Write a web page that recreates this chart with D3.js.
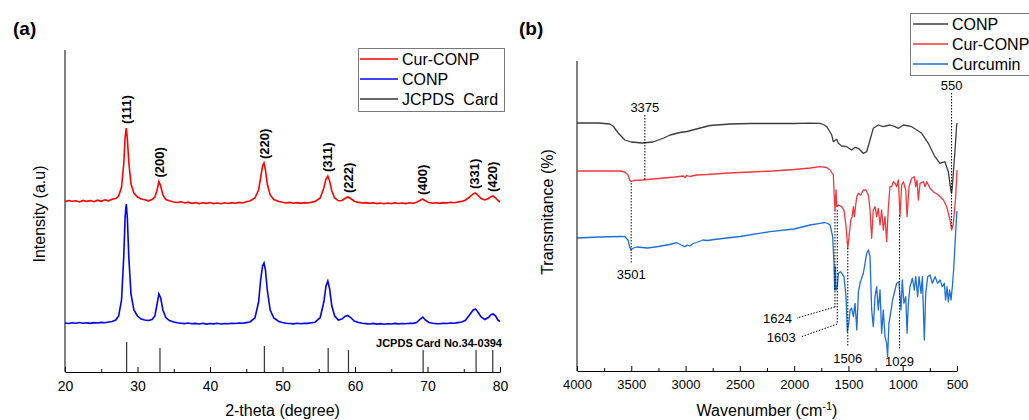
<!DOCTYPE html>
<html>
<head>
<meta charset="utf-8">
<script src="https://cdn.jsdelivr.net/npm/d3@7"></script>
<style>
  body { margin: 0; background: #fff; }
  text { font-family: "Liberation Sans", Arial, sans-serif; }
</style>
</head>
<body>
<script>
// ---------- (a) XRD data ----------
var xrdTheta = [20,20.5,21,21.5,22,22.5,23,23.5,24,24.5,25,25.5,26,26.5,27,27.4,27.8,28.1,28.3,28.45,28.6,28.8,29.1,29.5,30,30.5,31,31.5,32,32.4,32.7,32.95,33.2,33.5,33.9,34.4,35,35.5,36,36.5,37,37.5,38,38.5,39,39.5,40,40.5,41,41.5,42,42.5,43,43.5,44,44.5,45,45.5,46.2,46.7,47.0,47.25,47.45,47.65,47.9,48.3,48.8,49.5,50,50.5,51,51.5,52,52.5,53,53.5,54,54.5,55.2,55.7,56.0,56.25,56.5,56.8,57.2,57.7,58.2,58.6,59.0,59.4,59.9,60.5,61,61.5,62,62.5,63,63.5,64,64.5,65,65.5,66,66.5,67,67.5,68,68.5,69.0,69.35,69.7,70.2,70.7,71.2,71.7,72.2,72.7,73.2,73.7,74.2,74.7,75.2,75.8,76.3,76.6,76.9,77.4,77.9,78.4,78.8,79.05,79.4,79.7,80];
var xrdCurConp = [1705,1715,1708,1712,1700,1716,1706,1714,1703,1718,1707,1722,1712,1728,1735,1760,1850,2080,2350,2440,2330,2100,1880,1790,1750,1730,1722,1712,1725,1750,1820,1905,1860,1770,1725,1712,1700,1695,1702,1690,1698,1686,1694,1684,1692,1686,1695,1684,1690,1682,1692,1685,1694,1688,1696,1690,1702,1710,1740,1820,1950,2060,2090,2020,1880,1770,1725,1705,1698,1690,1696,1688,1694,1686,1694,1690,1698,1706,1740,1840,1930,1960,1910,1810,1740,1712,1715,1735,1750,1735,1708,1696,1690,1694,1686,1692,1684,1690,1682,1690,1684,1692,1685,1690,1684,1692,1688,1698,1718,1730,1712,1694,1688,1692,1686,1694,1690,1697,1692,1700,1706,1718,1750,1780,1790,1772,1735,1720,1735,1755,1760,1740,1715,1700];
var xrdConp = [490,485,492,488,495,487,493,486,494,490,496,492,500,505,520,560,720,1150,1560,1680,1540,1150,780,620,560,530,520,515,525,560,680,780,740,620,545,515,500,492,488,484,490,482,486,480,487,479,485,481,487,480,484,482,488,485,490,487,494,500,540,700,930,1060,1090,1020,820,620,540,505,495,488,485,481,487,483,488,486,492,498,545,700,860,910,830,660,560,520,530,555,565,545,510,495,488,484,480,486,479,484,478,483,480,486,481,485,482,488,486,495,530,550,520,495,487,484,482,487,485,490,488,494,500,515,570,620,630,605,550,525,545,575,580,560,520,505];

var jcpdsTheta = [28.5, 33.1, 47.5, 56.3, 59.1, 69.4, 76.7, 79.0];
var jcpdsHeight = [300, 240, 260, 240, 220, 220, 220, 220];

var hklNames = ["(111)","(200)","(220)","(311)","(222)","(400)","(331)","(420)"];
var hklTheta = [28.45, 33.0, 47.45, 56.25, 59.1, 69.35, 76.5, 78.9];

var xrdLegend = ["Cur-CONP", "CONP", "JCPDS  Card"];
var xrdColors = ["#ff0000", "#0000ff", "#333333"];

// ---------- (b) FTIR data ----------
var wnConp = [4000,3900,3800,3700,3668,3620,3560,3500,3400,3300,3200,3143,3050,2987,2900,2775,2650,2591,2400,2200,2000,1850,1762,1730,1700,1675,1654,1639,1608,1593,1562,1516,1470,1439,1409,1363,1332,1301,1271,1225,1179,1117,1071,1040,994,917,825,764,703,657,611,580,555,550,543,518,503,500];
var ftirConp = [248,248,248,247,245,238,231,229,228,229,233,236,238.5,239.5,242,245.5,246.5,247,247.5,247.5,247.5,247.8,247.7,246.5,244.3,240,236,229.3,231.7,227.7,225,224.3,221,223.7,222.7,217.7,219.3,231,242.7,246,244.3,246,244.3,242.7,246,244.3,237.7,227.7,214.3,207.7,209.3,199.3,179.3,178,184.3,221,246,248];

var wnCurConp = [4000,3800,3604,3560,3530,3515,3501,3480,3400,3300,3200,3100,3020,3005,2990,2960,2900,2800,2600,2400,2200,2000,1850,1762,1700,1669,1639,1633,1624,1614,1608,1593,1562,1541,1522,1506,1491,1478,1466,1454,1445,1435,1423,1408,1386,1363,1338,1316,1301,1286,1271,1255,1240,1225,1209,1194,1179,1163,1148,1132,1117,1102,1086,1071,1056,1040,1025,1010,994,972,960,942,917,893,880,868,856,840,809,794,779,748,717,671,625,595,564,549,533,512,500];
var ftirCurConp = [200,200,200,199,196,191,189.5,190.5,191,192,193,194,195,193.5,195.5,194.5,196,196.5,198,199,200,201.5,203,204.3,203.5,201,196,181,161,181,164.3,166,164.3,161,144.3,122.7,137.7,151,154.3,164.3,154.3,164.3,174.3,177.7,176,181,181,176,161,132.7,161,164.3,154.3,162.7,146,161,141,154.3,129.3,164.3,184.3,184.3,189.3,187.7,184.3,191,154.3,186,189.3,181,154.3,184.3,192.7,194.3,184.3,191,171,187.7,189.3,184.3,189.3,182.7,179.3,176,171,164.3,151,141,147.7,174.3,201];

var wnCurcumin = [4000,3800,3600,3558,3530,3515,3501,3490,3450,3350,3250,3150,3080,3040,3005,2985,2960,2930,2900,2840,2800,2700,2500,2222,2000,1854,1762,1720,1690,1669,1645,1633,1627,1621,1614,1602,1593,1572,1541,1522,1510,1497,1485,1470,1454,1439,1423,1408,1393,1378,1363,1347,1332,1316,1301,1286,1271,1255,1240,1225,1209,1194,1179,1163,1148,1139,1127,1112,1093,1071,1056,1035,1016,1004,989,972,960,948,933,911,893,880,862,850,831,819,801,788,770,748,727,702,678,656,635,617,605,592,580,568,555,543,531,518,503,500];
var ftirCurcumin = [133,134,134.5,134.3,131,124,121,122.5,124,123,124.5,126.5,128.3,126,124.3,126,125,127.5,128.5,131,130.5,132,134.5,139.3,142,146,147.7,148.5,147.5,146,134.3,107.7,81,104.3,81,84.3,97.7,99.3,94.3,74.3,39.3,47.7,61,62.7,54.3,67.7,41,79.3,87.7,92.7,97.7,107.7,117.7,121,114.3,61,44.3,74.3,84.3,61,81,37.7,61,34.3,27.7,14.3,47.7,57.7,71,81,87.7,89.3,61,91,67.7,74.3,37.7,67.7,84.3,92.7,81,94.3,74.3,94.3,77.7,94.3,31,77.7,94.3,96,87.7,94.3,87.7,91,84.3,87.7,71,84.3,69.3,81,71,84.3,101,127.7,156,160];

var ftirLegend = ["CONP", "Cur-CONP", "Curcumin"];
var ftirColors = ["#3c3c3c", "#f5363c", "#1c6fd8"];

// marked bands: dotted line from top to bottom value
var markWn = [3375, 550, 3501, 1624, 1603, 1506, 1029];
var markTop = [256, 278, 188, 161, 161, 123, 156];
var markBottom = [191, 143, 108, 64, 47, 24, 21];
var markSide = ["above", "above", "below", "leader", "leader", "below", "below"];
var leaderWn = [null, null, null, 1974, 1940, null, null];
var leaderVal = [null, null, null, 53, 34, null, null];

var svg = d3.select("body").append("svg")
  .attr("width", 1029)
  .attr("height", 420);

// ======================= panel (a) =======================
var xA = d3.scaleLinear().domain([20, 80]).range([65, 500]);
var yA = d3.scaleLinear().domain([0, 3220]).range([372, 50]);

var gA = svg.append("g");

gA.append("g")
  .attr("transform", "translate(0," + yA(0) + ")")
  .call(d3.axisBottom(xA).tickValues(d3.range(20, 81, 10)).tickSizeInner(-5).tickSizeOuter(0).tickPadding(9))
  .call(g => g.selectAll("text").attr("font-size", 14).attr("fill", "#000"))
  .call(g => g.selectAll("line,path").attr("stroke", "#000"));

gA.append("g")
  .attr("transform", "translate(0," + yA(0) + ")")
  .call(d3.axisBottom(xA).tickValues(d3.range(25, 80, 10)).tickSizeInner(-3).tickSizeOuter(0).tickFormat(""))
  .call(g => g.select(".domain").remove())
  .call(g => g.selectAll("line").attr("stroke", "#000"));

gA.append("line")
  .attr("x1", xA(20)).attr("x2", xA(20))
  .attr("y1", yA(0)).attr("y2", yA(3220))
  .attr("stroke", "#000");

var lineA = d3.line().x(d => xA(d[0])).y(d => yA(d[1]));

gA.append("path")
  .datum(d3.zip(xrdTheta, xrdConp))
  .attr("d", lineA).attr("fill", "none")
  .attr("stroke", xrdColors[1]).attr("stroke-width", 1.6);

gA.append("path")
  .datum(d3.zip(xrdTheta, xrdCurConp))
  .attr("d", lineA).attr("fill", "none")
  .attr("stroke", xrdColors[0]).attr("stroke-width", 1.6);

// reference card sticks
gA.selectAll(".jcpds").data(d3.zip(jcpdsTheta, jcpdsHeight)).enter()
  .append("line")
  .attr("class", "jcpds")
  .attr("x1", d => xA(d[0])).attr("x2", d => xA(d[0]))
  .attr("y1", yA(0)).attr("y2", d => yA(d[1]))
  .attr("stroke", xrdColors[2]).attr("stroke-width", 1.2);

gA.append("text")
  .attr("x", 502).attr("y", 347)
  .attr("text-anchor", "end")
  .attr("font-size", 11).attr("font-weight", "bold")
  .text("JCPDS Card No.34-0394");

// hkl labels sit just above the Cur-CONP peaks
gA.selectAll(".hkl").data(d3.zip(hklTheta, hklNames)).enter()
  .append("text")
  .attr("class", "hkl")
  .attr("transform", d => {
    var peak = d3.max(xrdTheta.map((t, i) => Math.abs(t - d[0]) <= 0.45 ? xrdCurConp[i] : 0));
    return "translate(" + xA(d[0]) + "," + (yA(peak) - 4) + ") rotate(-90)";
  })
  .attr("dy", "0.35em")
  .attr("font-size", 13).attr("font-weight", "bold")
  .text(d => d[1]);

gA.append("text")
  .attr("x", xA(50)).attr("y", 416)
  .attr("text-anchor", "middle").attr("font-size", 16)
  .text("2-theta (degree)");

gA.append("text")
  .attr("transform", "translate(45,214) rotate(-90)")
  .attr("text-anchor", "middle").attr("font-size", 16)
  .text("Intensity (a.u)");

gA.append("text")
  .attr("x", 13).attr("y", 35)
  .attr("font-size", 19).attr("font-weight", "bold")
  .text("(a)");

// legend (a)
var legA = gA.append("g");
legA.append("rect")
  .attr("x", 358.5).attr("y", 48.5).attr("width", 146).attr("height", 63)
  .attr("fill", "#fff").attr("stroke", "#777");
xrdLegend.forEach((name, i) => {
  legA.append("line")
    .attr("x1", 360).attr("x2", 398)
    .attr("y1", 59 + i * 20).attr("y2", 59 + i * 20)
    .attr("stroke", xrdColors[i]).attr("stroke-width", 1.3);
  legA.append("text")
    .attr("x", 402).attr("y", 59 + i * 20 + 6)
    .attr("font-size", 16).style("white-space", "pre")
    .text(name);
});

// ======================= panel (b) =======================
var xB = d3.scaleLinear().domain([4000, 500]).range([577, 957]);
var yB = d3.scaleLinear().domain([0, 310]).range([371, 61]);

var gB = svg.append("g");

gB.append("g")
  .attr("transform", "translate(0," + yB(0) + ")")
  .call(d3.axisBottom(xB).tickValues(d3.range(4000, 499, -500)).tickFormat(d3.format("d"))
    .tickSizeInner(-5).tickSizeOuter(0).tickPadding(9))
  .call(g => g.selectAll("text").attr("font-size", 13).attr("fill", "#000"))
  .call(g => g.selectAll("line,path").attr("stroke", "#000"));

gB.append("g")
  .attr("transform", "translate(0," + yB(0) + ")")
  .call(d3.axisBottom(xB).tickValues(d3.range(3750, 500, -500)).tickSizeInner(-3).tickSizeOuter(0).tickFormat(""))
  .call(g => g.select(".domain").remove())
  .call(g => g.selectAll("line").attr("stroke", "#000"));

gB.append("line")
  .attr("x1", xB(4000)).attr("x2", xB(4000))
  .attr("y1", yB(0)).attr("y2", yB(310))
  .attr("stroke", "#000");

var lineB = d3.line().x(d => xB(d[0])).y(d => yB(d[1]));

[[wnConp, ftirConp], [wnCurConp, ftirCurConp], [wnCurcumin, ftirCurcumin]].forEach((s, i) => {
  gB.append("path")
    .datum(d3.zip(s[0], s[1]))
    .attr("d", lineB).attr("fill", "none")
    .attr("stroke", ftirColors[i]).attr("stroke-width", 1.3)
    .attr("stroke-linejoin", "round");
});

// dotted band markers
markWn.forEach((wn, i) => {
  gB.append("line")
    .attr("x1", xB(wn)).attr("x2", xB(wn))
    .attr("y1", yB(markTop[i])).attr("y2", yB(markBottom[i]))
    .attr("stroke", "#000").attr("stroke-width", 1)
    .attr("stroke-dasharray", "1.5,1.5");
  var lab = gB.append("text").attr("font-size", 13).text(wn);
  if (markSide[i] === "above") {
    lab.attr("x", xB(wn)).attr("y", yB(markTop[i]) - 3).attr("text-anchor", "middle");
  } else if (markSide[i] === "below") {
    lab.attr("x", xB(wn)).attr("y", yB(markBottom[i]) + 16).attr("text-anchor", "middle");
  } else {
    gB.append("line")
      .attr("x1", xB(wn)).attr("x2", xB(leaderWn[i]))
      .attr("y1", yB(markBottom[i])).attr("y2", yB(leaderVal[i]))
      .attr("stroke", "#000").attr("stroke-width", 1)
      .attr("stroke-dasharray", "1.5,1.5");
    lab.attr("x", xB(leaderWn[i]) - 5).attr("y", yB(leaderVal[i]) + 5).attr("text-anchor", "end");
  }
});

var xt = gB.append("text")
  .attr("x", 767).attr("y", 416)
  .attr("text-anchor", "middle").attr("font-size", 16);
xt.append("tspan").text("Wavenumber (cm");
xt.append("tspan").attr("dy", -6).attr("font-size", 11).text("-1");
xt.append("tspan").attr("dy", 6).text(")");

gB.append("text")
  .attr("transform", "translate(553,212) rotate(-90)")
  .attr("text-anchor", "middle").attr("font-size", 16)
  .text("Transmitance (%)");

gB.append("text")
  .attr("x", 519).attr("y", 35)
  .attr("font-size", 19).attr("font-weight", "bold")
  .text("(b)");

// legend (b)
var legB = gB.append("g");
legB.append("rect")
  .attr("x", 910.5).attr("y", 13.5).attr("width", 125).attr("height", 62)
  .attr("fill", "#fff").attr("stroke", "#777");
ftirLegend.forEach((name, i) => {
  legB.append("line")
    .attr("x1", 913).attr("x2", 948)
    .attr("y1", 24 + i * 20).attr("y2", 24 + i * 20)
    .attr("stroke", ftirColors[i]).attr("stroke-width", 1.3);
  legB.append("text")
    .attr("x", 952).attr("y", 24 + i * 20 + 6)
    .attr("font-size", 16)
    .text(name);
});
</script>
</body>
</html>
